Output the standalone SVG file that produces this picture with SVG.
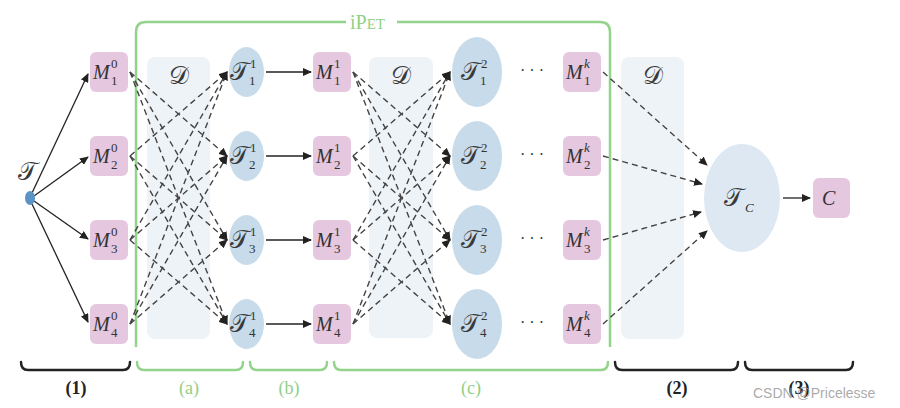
<svg xmlns="http://www.w3.org/2000/svg" width="900" height="408" viewBox="0 0 900 408">
  <style>
    .box { fill: #e5c7df; }
    .ell { fill: #c7dbea; }
    .ellc { fill: #dde8f2; }
    .data { fill: #eef3f8; }
    .frame { fill: none; stroke: #93d38c; stroke-width: 2.5; }
    .brace { fill: none; stroke: #222; stroke-width: 2.5; stroke-linecap: round; }
    .gbrace { fill: none; stroke: #93d38c; stroke-width: 2.5; stroke-linecap: round; }
    .solid { stroke: #222; stroke-width: 1.3; fill: none; }
    .dash { stroke: #444; stroke-width: 1.4; fill: none; stroke-dasharray: 6 4; }
    .m { font-family: "Liberation Serif", "DejaVu Serif", serif; font-style: italic; font-size: 20px; fill: #333; }
    .s { font-family: "Liberation Serif", "DejaVu Serif", serif; font-size: 13px; fill: #333; font-style: normal; }
    .si { font-family: "Liberation Serif", "DejaVu Serif", serif; font-size: 13px; fill: #333; font-style: italic; }
    .cal { font-family: "DejaVu Serif", "Liberation Serif", serif; font-size: 25px; fill: #3a3a3a; }
    .lab { font-family: "Liberation Serif", serif; font-size: 18px; font-weight: bold; fill: #222; text-anchor: middle; }
    .glab { font-family: "Liberation Serif", serif; font-size: 18px; fill: #8fd088; text-anchor: middle; }
  </style>
  <defs>
    <marker id="ah" markerWidth="9" markerHeight="8" refX="8" refY="4" orient="auto" markerUnits="userSpaceOnUse">
      <path d="M0,0 L9,4 L0,8 Z" fill="#222"/>
    </marker>
  </defs>

  <!-- shared data panels -->
  <g id="data1"><rect class="data" x="147" y="57" width="63" height="282" rx="8"/><text class="cal" x="169" y="84">𝒟</text></g>
  <g id="data2"><rect class="data" x="369" y="57" width="64" height="281" rx="8"/><text class="cal" x="391" y="84">𝒟</text></g>
  <g id="data3"><rect class="data" x="621" y="57" width="63" height="282" rx="8"/><text class="cal" x="643" y="84">𝒟</text></g>

  <!-- iPET frame -->
  <g id="ipet">
    <path class="frame" d="M136,347 V32 Q136,22 146,22 H346 M397,22 H600 Q610,22 610,32 V347"/>
    <text x="350" y="29" font-family="Liberation Serif, serif" font-size="20" fill="#8fd088">iP<tspan font-size="15">ET</tspan></text>
  </g>

  <!-- connectors -->
  <g id="connectors">
    <!-- root to first models -->
    <path class="solid" d="M32,193 L88,74" marker-end="url(#ah)"/>
    <path class="solid" d="M34,196 L88,157" marker-end="url(#ah)"/>
    <path class="solid" d="M34,201 L88,239" marker-end="url(#ah)"/>
    <path class="solid" d="M32,204 L88,322" marker-end="url(#ah)"/>
    <!-- M0 to T1 -->
    <path class="dash" d="M130,72 L227,156" marker-end="url(#ah)"/>
    <path class="dash" d="M130,72 L227,240" marker-end="url(#ah)"/>
    <path class="dash" d="M130,72 L227,324" marker-end="url(#ah)"/>
    <path class="dash" d="M130,156 L227,72" marker-end="url(#ah)"/>
    <path class="dash" d="M130,156 L227,240" marker-end="url(#ah)"/>
    <path class="dash" d="M130,156 L227,324" marker-end="url(#ah)"/>
    <path class="dash" d="M130,240 L227,72" marker-end="url(#ah)"/>
    <path class="dash" d="M130,240 L227,156" marker-end="url(#ah)"/>
    <path class="dash" d="M130,240 L227,324" marker-end="url(#ah)"/>
    <path class="dash" d="M130,324 L227,72" marker-end="url(#ah)"/>
    <path class="dash" d="M130,324 L227,156" marker-end="url(#ah)"/>
    <path class="dash" d="M130,324 L227,240" marker-end="url(#ah)"/>
    <!-- T1 to M1 -->
    <path class="solid" d="M266,72 L311,72" marker-end="url(#ah)"/>
    <path class="solid" d="M266,156 L311,156" marker-end="url(#ah)"/>
    <path class="solid" d="M266,240 L311,240" marker-end="url(#ah)"/>
    <path class="solid" d="M266,324 L311,324" marker-end="url(#ah)"/>
    <!-- M1 to T2 -->
    <path class="dash" d="M353,72 L450,156" marker-end="url(#ah)"/>
    <path class="dash" d="M353,72 L450,240" marker-end="url(#ah)"/>
    <path class="dash" d="M353,72 L450,324" marker-end="url(#ah)"/>
    <path class="dash" d="M353,156 L450,72" marker-end="url(#ah)"/>
    <path class="dash" d="M353,156 L450,240" marker-end="url(#ah)"/>
    <path class="dash" d="M353,156 L450,324" marker-end="url(#ah)"/>
    <path class="dash" d="M353,240 L450,72" marker-end="url(#ah)"/>
    <path class="dash" d="M353,240 L450,156" marker-end="url(#ah)"/>
    <path class="dash" d="M353,240 L450,324" marker-end="url(#ah)"/>
    <path class="dash" d="M353,324 L450,72" marker-end="url(#ah)"/>
    <path class="dash" d="M353,324 L450,156" marker-end="url(#ah)"/>
    <path class="dash" d="M353,324 L450,240" marker-end="url(#ah)"/>
    <!-- Mk to TC -->
    <path class="dash" d="M603,72 L707,165" marker-end="url(#ah)"/>
    <path class="dash" d="M603,156 L702,184" marker-end="url(#ah)"/>
    <path class="dash" d="M603,240 L701,212" marker-end="url(#ah)"/>
    <path class="dash" d="M603,324 L707,231" marker-end="url(#ah)"/>
    <!-- TC to C -->
    <path class="solid" d="M783,198 L810,198" marker-end="url(#ah)"/>
  </g>

  <!-- root task -->
  <g id="root">
    <ellipse cx="30" cy="198" rx="5" ry="7" fill="#5b93c5"/>
    <text class="cal" x="18" y="180">𝒯</text>
  </g>

  <!-- initial models -->
  <g id="m0-1"><rect class="box" x="90" y="52" width="38" height="40" rx="6"/><text class="m" x="93" y="79">M</text><text class="s" x="111" y="68">0</text><text class="s" x="111" y="85">1</text></g>
  <g id="m0-2"><rect class="box" x="90" y="136" width="38" height="40" rx="6"/><text class="m" x="93" y="163">M</text><text class="s" x="111" y="152">0</text><text class="s" x="111" y="169">2</text></g>
  <g id="m0-3"><rect class="box" x="90" y="220" width="38" height="40" rx="6"/><text class="m" x="93" y="247">M</text><text class="s" x="111" y="236">0</text><text class="s" x="111" y="253">3</text></g>
  <g id="m0-4"><rect class="box" x="90" y="304" width="38" height="40" rx="6"/><text class="m" x="93" y="331">M</text><text class="s" x="111" y="320">0</text><text class="s" x="111" y="337">4</text></g>

  <!-- first generation training sets -->
  <g id="t1-1"><ellipse class="ell" cx="246.5" cy="72" rx="17.5" ry="25"/><text class="cal" x="230" y="80">𝒯</text><text class="s" x="250" y="68">1</text><text class="s" x="249" y="85">1</text></g>
  <g id="t1-2"><ellipse class="ell" cx="246.5" cy="156" rx="17.5" ry="25"/><text class="cal" x="230" y="164">𝒯</text><text class="s" x="250" y="152">1</text><text class="s" x="249" y="169">2</text></g>
  <g id="t1-3"><ellipse class="ell" cx="246.5" cy="240" rx="17.5" ry="25"/><text class="cal" x="230" y="248">𝒯</text><text class="s" x="250" y="236">1</text><text class="s" x="249" y="253">3</text></g>
  <g id="t1-4"><ellipse class="ell" cx="246.5" cy="324" rx="17.5" ry="25"/><text class="cal" x="230" y="332">𝒯</text><text class="s" x="250" y="320">1</text><text class="s" x="249" y="337">4</text></g>

  <!-- first generation models -->
  <g id="m1-1"><rect class="box" x="313" y="52" width="38" height="40" rx="6"/><text class="m" x="316" y="79">M</text><text class="s" x="334" y="68">1</text><text class="s" x="334" y="85">1</text></g>
  <g id="m1-2"><rect class="box" x="313" y="136" width="38" height="40" rx="6"/><text class="m" x="316" y="163">M</text><text class="s" x="334" y="152">1</text><text class="s" x="334" y="169">2</text></g>
  <g id="m1-3"><rect class="box" x="313" y="220" width="38" height="40" rx="6"/><text class="m" x="316" y="247">M</text><text class="s" x="334" y="236">1</text><text class="s" x="334" y="253">3</text></g>
  <g id="m1-4"><rect class="box" x="313" y="304" width="38" height="40" rx="6"/><text class="m" x="316" y="331">M</text><text class="s" x="334" y="320">1</text><text class="s" x="334" y="337">4</text></g>

  <!-- second generation training sets -->
  <g id="t2-1"><ellipse class="ell" cx="477" cy="72" rx="25" ry="35"/><text class="cal" x="461" y="80">𝒯</text><text class="s" x="481" y="68">2</text><text class="s" x="480" y="85">1</text></g>
  <g id="t2-2"><ellipse class="ell" cx="477" cy="156" rx="25" ry="35"/><text class="cal" x="461" y="164">𝒯</text><text class="s" x="481" y="152">2</text><text class="s" x="480" y="169">2</text></g>
  <g id="t2-3"><ellipse class="ell" cx="477" cy="240" rx="25" ry="35"/><text class="cal" x="461" y="248">𝒯</text><text class="s" x="481" y="236">2</text><text class="s" x="480" y="253">3</text></g>
  <g id="t2-4"><ellipse class="ell" cx="477" cy="324" rx="25" ry="35"/><text class="cal" x="461" y="332">𝒯</text><text class="s" x="481" y="320">2</text><text class="s" x="480" y="337">4</text></g>

  <!-- ellipses between generations -->
  <g id="dots" font-family="Liberation Serif, serif" font-size="16" fill="#333" text-anchor="middle">
    <text x="532" y="76">· · ·</text><text x="532" y="160">· · ·</text><text x="532" y="244">· · ·</text><text x="532" y="328">· · ·</text>
  </g>

  <!-- final generation models -->
  <g id="mk-1"><rect class="box" x="563" y="52" width="38" height="40" rx="6"/><text class="m" x="566" y="79">M</text><text class="si" x="584" y="68">k</text><text class="s" x="584" y="85">1</text></g>
  <g id="mk-2"><rect class="box" x="563" y="136" width="38" height="40" rx="6"/><text class="m" x="566" y="163">M</text><text class="si" x="584" y="152">k</text><text class="s" x="584" y="169">2</text></g>
  <g id="mk-3"><rect class="box" x="563" y="220" width="38" height="40" rx="6"/><text class="m" x="566" y="247">M</text><text class="si" x="584" y="236">k</text><text class="s" x="584" y="253">3</text></g>
  <g id="mk-4"><rect class="box" x="563" y="304" width="38" height="40" rx="6"/><text class="m" x="566" y="331">M</text><text class="si" x="584" y="320">k</text><text class="s" x="584" y="337">4</text></g>

  <!-- combined training set and classifier -->
  <g id="tc"><ellipse class="ellc" cx="742" cy="198" rx="38" ry="54"/><text class="cal" x="724" y="206">𝒯</text><text class="si" x="745" y="212">C</text></g>
  <g id="c"><rect class="box" x="813" y="178" width="37" height="40" rx="6"/><text class="m" x="822" y="205">C</text></g>

  <!-- stage braces -->
  <g id="braces">
    <path class="brace" d="M21,362 Q21,370 28,370 H123 Q130,370 130,362"/>
    <path class="gbrace" d="M137,362 Q137,370 144,370 H236 Q243,370 243,362"/>
    <path class="gbrace" d="M250,362 Q250,370 257,370 H320 Q327,370 327,362"/>
    <path class="gbrace" d="M334,362 Q334,370 341,370 H601 Q608,370 608,362"/>
    <path class="brace" d="M615,362 Q615,370 622,370 H731 Q738,370 738,362"/>
    <path class="brace" d="M745,362 Q745,370 752,370 H846 Q853,370 853,362"/>
    <text class="lab" x="76" y="394">(1)</text>
    <text class="glab" x="189" y="394">(a)</text>
    <text class="glab" x="289" y="394">(b)</text>
    <text class="glab" x="471" y="394">(c)</text>
    <text class="lab" x="677" y="394">(2)</text>
    <text class="lab" x="799" y="394">(3)</text>
  </g>

  <text x="753" y="398" font-family="Liberation Sans, Arial, sans-serif" font-size="14" fill="#9a9a9a" fill-opacity="0.85">CSDN @Pricelesse</text>
</svg>
